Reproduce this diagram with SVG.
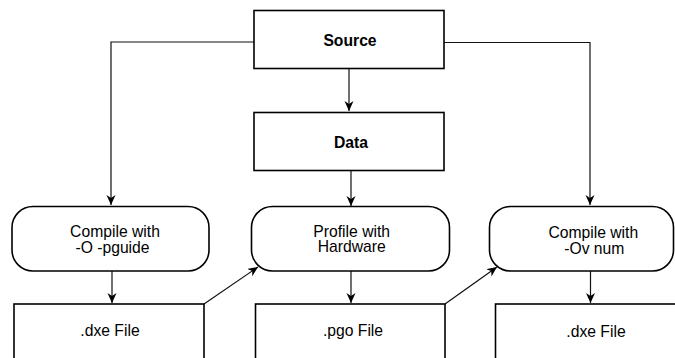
<svg xmlns="http://www.w3.org/2000/svg" width="675" height="358" viewBox="0 0 675 358">
<style>
.box{fill:#fff;stroke:#000;stroke-width:1.6}
.t{font-family:"Liberation Sans",Arial,sans-serif;font-size:15.7px;fill:#000;text-anchor:middle}
.b{font-weight:bold}
.c{fill:none;stroke:#111;stroke-width:1.2}
</style>
<defs>
<marker id="ah" markerUnits="userSpaceOnUse" markerWidth="12" markerHeight="10" refX="10" refY="4.5" orient="auto">
<path d="M0,0 L10,4.5 L0,9 L3,4.5 z" fill="#000"/>
</marker>
</defs>
<g id="connectors">
<path class="c" d="M254,42 H111 V205" marker-end="url(#ah)"/>
<path class="c" d="M444,42.5 H590 V205" marker-end="url(#ah)"/>
<path class="c" d="M349,69 V111" marker-end="url(#ah)"/>
<path class="c" d="M351,171 V206" marker-end="url(#ah)"/>
<path class="c" d="M112,271 V303" marker-end="url(#ah)"/>
<path class="c" d="M351,271 V303" marker-end="url(#ah)"/>
<path class="c" d="M590.5,271 V303" marker-end="url(#ah)"/>
<path class="c" d="M204,304 L258,267" marker-end="url(#ah)"/>
<path class="c" d="M445,304 L497,267" marker-end="url(#ah)"/>
</g>
<g id="source">
<rect class="box" x="254" y="10.5" width="190" height="58"/>
<text class="t b" x="350" y="46">Source</text>
</g>
<g id="data">
<rect class="box" x="254" y="112.5" width="190" height="58"/>
<text class="t b" x="351" y="148">Data</text>
</g>
<g id="compile1">
<rect class="box" x="12" y="206.5" width="197" height="64.5" rx="21"/>
<text class="t" x="115" y="236.5">Compile with</text>
<text class="t" x="112.5" y="252.5">-O -pguide</text>
</g>
<g id="profile">
<rect class="box" x="251.5" y="206.5" width="198" height="64.5" rx="21"/>
<text class="t" x="351.7" y="236.5">Profile with</text>
<text class="t" x="351.8" y="252">Hardware</text>
</g>
<g id="compile2">
<rect class="box" x="489.5" y="206.5" width="184" height="64.5" rx="21"/>
<text class="t" x="593.3" y="237.5">Compile with</text>
<text class="t" x="594.3" y="253.5">-Ov num</text>
</g>
<g id="dxe1">
<rect class="box" x="14" y="304" width="190" height="70"/>
<text class="t" x="110" y="336">.dxe File</text>
</g>
<g id="pgo">
<rect class="box" x="255.5" y="304" width="189.5" height="70"/>
<text class="t" x="353" y="336">.pgo File</text>
</g>
<g id="dxe2">
<rect class="box" x="495.5" y="304" width="190" height="70"/>
<text class="t" x="596" y="337">.dxe File</text>
</g>
</svg>
